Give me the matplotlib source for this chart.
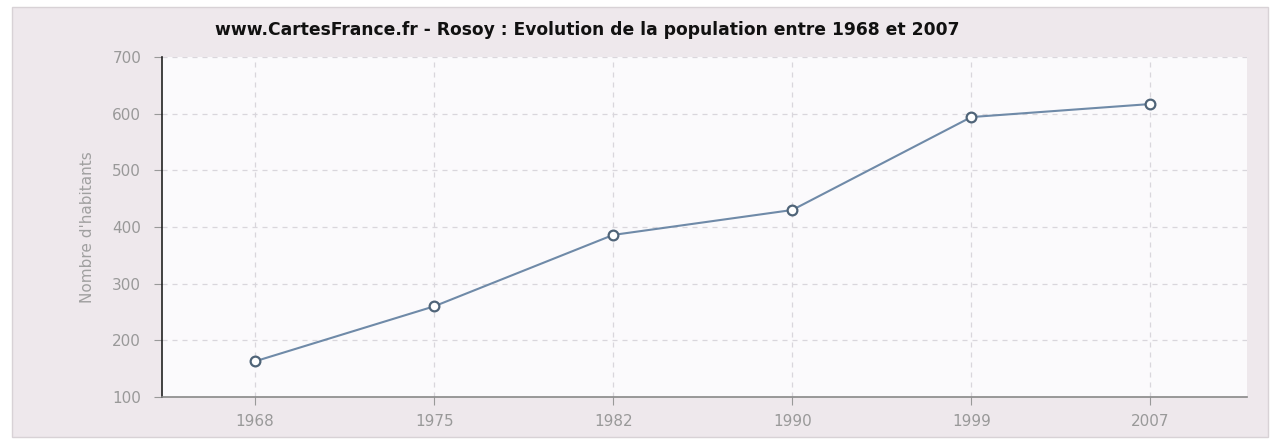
import matplotlib.pyplot as plt
from matplotlib.patches import Rectangle

years = ["1968", "1975", "1982", "1990", "1999", "2007"]
population = [163, 260, 386, 430, 594, 617]
y_ticks = [100, 200, 300, 400, 500, 600, 700]

bg = "#eee8ec"
fig = plt.figure(figsize=(12.81, 4.43), dpi=100, facecolor="white")
# outer panel with thin border, kept behind the axes
fig.patches.append(Rectangle((12 / 1281, 6 / 443), 1256 / 1281, 430 / 443,
                             transform=fig.transFigure, facecolor=bg,
                             edgecolor="#d8d2d6", linewidth=1.0, zorder=-10))

ax = fig.add_axes([162 / 1281, 46 / 443, 1085 / 1281, 340 / 443])
ax.set_zorder(1)
ax.set_facecolor("#fbfafc")

x = list(range(len(years)))
ax.plot(x, population, color="#6f8aa8", linewidth=1.5, marker="o",
        markersize=7, markerfacecolor="white", markeredgecolor="#4f6478",
        markeredgewidth=1.6, zorder=3)

ax.set_xlim(-0.52, len(years) - 0.46)
ax.set_ylim(100, 700)
ax.set_xticks(x)
ax.set_xticklabels(years)
ax.set_yticks(y_ticks)

ax.grid(True, color="#d9d6dc", linestyle=(0, (4, 4)), linewidth=0.9)
ax.set_axisbelow(True)

for side in ["top", "right"]:
    ax.spines[side].set_visible(False)
ax.spines["left"].set_color("#222222")
ax.spines["left"].set_linewidth(1.2)
ax.spines["bottom"].set_color("#888888")
ax.spines["bottom"].set_linewidth(1.2)

ax.tick_params(axis="both", colors="#999999", labelcolor="#999999",
               labelsize=11, length=6, direction="out")
ax.tick_params(axis="y", pad=9)
ax.tick_params(axis="x", pad=6)

ax.set_ylabel("Nombre d'habitants", color="#a0a0a0", fontsize=11, labelpad=12)

fig.text(215 / 1281, 1 - 30 / 443,
         "www.CartesFrance.fr - Rosoy : Evolution de la population entre 1968 et 2007",
         fontsize=12.3, fontweight="bold", color="#111111", va="center", ha="left")

fig.savefig("out.png", dpi=100, facecolor="white")
